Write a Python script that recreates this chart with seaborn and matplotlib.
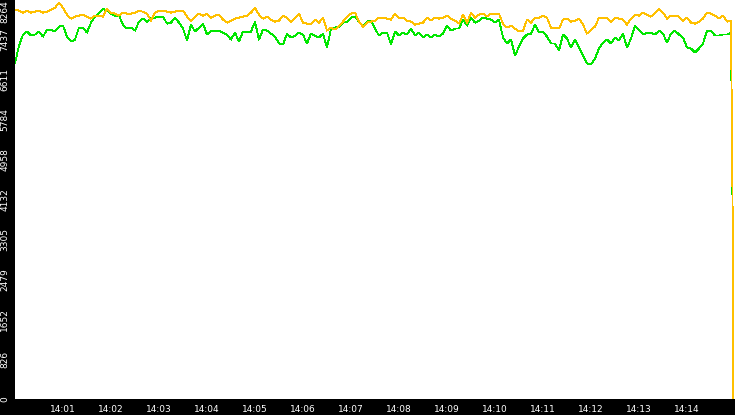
import seaborn as sns
import matplotlib.pyplot as plt

# samples every 5 s from 14:00:00
seconds = list(range(0, 900, 5))

gold_vals = [
    8064, 8043, 8002, 8043, 8002, 8022, 8043, 8002, 8022, 8064, 8105, 8209, 8105,
    7960, 7878, 7919, 7940, 7960, 7919, 7878, 7940, 7940, 7919,
    8084, 8002, 7981, 7940, 8002, 7981, 7981, 8002, 8043, 8022, 7981,
    7837, 8002, 8043, 8043, 8022, 8002, 8022, 8043, 8043, 7919, 7837,
    7919, 7981, 7940, 7981, 7898, 7940, 7960, 7857, 7795, 7837, 7878, 7898, 7919, 7940,
    8002, 8105, 7960, 7878, 7919, 7857, 7816, 7837, 7940, 7898, 7816, 7898,
    7981, 7795, 7775, 7775, 7857, 7795, 7898, 7630, 7692, 7651,
    7734, 7816, 7919, 7981, 8002, 7816, 7713, 7795, 7816, 7837,
    7898, 7898, 7878, 7857, 7981, 7898, 7898, 7837, 7816, 7754,
    7775, 7795, 7898, 7837, 7898, 7878, 7898, 7940, 7878, 7837,
    7775, 7960, 7795, 8002, 7898, 7960, 7981, 7919,
    7981, 7981, 7981, 7775, 7692, 7734, 7672, 7610, 7630, 7857, 7795, 7898,
    7898, 7940, 7898, 7692, 7692, 7672, 7857, 7878, 7816, 7837,
    7878, 7754, 7568, 7651, 7713, 7898, 7898, 7898, 7816, 7898,
    7878, 7857, 7754, 7878, 7960, 7940, 8002, 7960, 7919, 8002,
    8084, 8002, 7878, 7940, 7940, 7919, 7837, 7898, 7795, 7775,
    7816, 7878, 8002, 7981, 7940, 7878, 7940, 7816, 7837,
]

green_vals = [
    6948, 7320, 7548, 7610, 7527, 7548, 7610, 7506, 7651, 7651, 7610, 7713, 7734,
    7506, 7403, 7444, 7692, 7692, 7589, 7795, 7919, 8002, 8084,
    8043, 7981, 7940, 7940, 7754, 7672, 7692, 7630, 7816, 7878, 7816,
    7898, 7898, 7919, 7919, 7775, 7795, 7898, 7795, 7672, 7424, 7754,
    7610, 7692, 7775, 7548, 7630, 7630, 7630, 7589, 7548, 7444, 7589, 7403, 7610, 7589,
    7610, 7816, 7444, 7651, 7630, 7568, 7506, 7362, 7341, 7568, 7486, 7527,
    7589, 7548, 7362, 7568, 7527, 7486, 7568, 7279, 7672, 7692,
    7713, 7795, 7816, 7898, 7919, 7816, 7713, 7816, 7837, 7672,
    7527, 7589, 7589, 7341, 7610, 7527, 7589, 7548, 7672, 7527,
    7589, 7486, 7548, 7486, 7548, 7506, 7568, 7734, 7630, 7672,
    7672, 7857, 7734, 7898, 7795, 7837, 7898, 7878,
    7857, 7795, 7857, 7486, 7362, 7444, 7114, 7300, 7465, 7548, 7568, 7754,
    7589, 7610, 7506, 7362, 7362, 7217, 7548, 7465, 7279, 7444,
    7279, 7114, 6948, 6928, 7052, 7258, 7382, 7444, 7362, 7486,
    7424, 7568, 7279, 7465, 7734, 7651, 7548, 7589, 7589, 7548,
    7630, 7568, 7382, 7568, 7630, 7548, 7486, 7279, 7258, 7176,
    7258, 7362, 7630, 7630, 7527, 7527, 7548, 7548, 7589,
]

# last samples where the feed drops out
gold_tail_sec = [897, 898]
gold_tail_vals = [3950, 0]
green_tail_sec = [897]
green_tail_vals = [3800]

y_ticks = [0, 826.4, 1652.8, 2479.2, 3305.6, 4132, 4958.4, 5784.8, 6611.2, 7437.6, 8264]
y_labels = ["0", "826", "1652", "2479", "3305", "4132", "4958", "5784", "6611", "7437", "8264"]
x_ticks = [60, 120, 180, 240, 300, 360, 420, 480, 540, 600, 660, 720, 780, 840]
x_labels = ["14:01", "14:02", "14:03", "14:04", "14:05", "14:06", "14:07",
            "14:08", "14:09", "14:10", "14:11", "14:12", "14:13", "14:14"]

sns.set_style("white")
plt.rcParams['font.family'] = ['DejaVu Sans']

fig = plt.figure(figsize=(7.35, 4.15), dpi=100, facecolor="black")
ax = fig.add_axes([15 / 735, 16 / 415, 720 / 735, 399 / 415])
ax.set_facecolor("white")

sns.lineplot(x=seconds + green_tail_sec, y=green_vals + green_tail_vals,
             color="#00e600", linewidth=0.6, estimator=None, sort=False,
             antialiased=False, ax=ax)
sns.lineplot(x=seconds + gold_tail_sec, y=gold_vals + gold_tail_vals,
             color="#ffc000", linewidth=0.6, estimator=None, sort=False,
             antialiased=False, ax=ax)

ax.set_xlim(0, 900)
ax.set_ylim(0, 8264)
ax.set_xticks(x_ticks, x_labels)
ax.set_yticks(y_ticks, y_labels, rotation=90, va="center")
ax.get_yticklabels()[-1].set_va("top")
ax.tick_params(colors="white", labelsize=6.5, length=3.5, width=0.8, pad=0.5)
for s in ax.spines.values():
    s.set_visible(False)
ax.set_xlabel("")
ax.set_ylabel("")

fig.savefig("out.png", dpi=100, facecolor="black")
